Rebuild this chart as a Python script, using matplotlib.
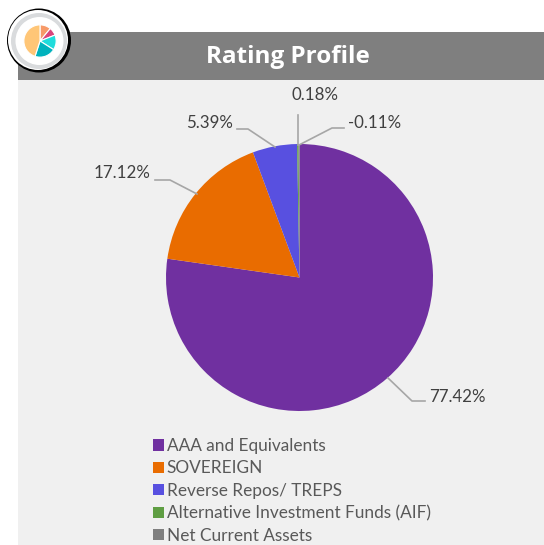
import matplotlib
matplotlib.use("Agg")
import matplotlib.pyplot as plt
from matplotlib.patches import Circle, Rectangle

plt.rcParams['font.family'] = ['Lato', 'DejaVu Sans']

W, H = 544, 545

categories = ["AAA and Equivalents", "SOVEREIGN", "Reverse Repos/ TREPS",
              "Alternative Investment Funds (AIF)", "Net Current Assets"]
values = [77.42, 17.12, 5.39, 0.18, 0.11]
value_labels = ["77.42%", "17.12%", "5.39%", "0.18%", "-0.11%"]
colors = ["#7030a0", "#e96c00", "#5850e0", "#5f9e43", "#7f7f7f"]

icon_values = [11, 8, 15, 21, 45]
icon_colors = ["#f79a68", "#d9457c", "#1fdcdc", "#00b2bd", "#ffc677"]

# leader lines and label spots, in picture pixels
leaders = [
    [(388, 378), (412, 401), (425, 401)],
    [(197, 194), (170, 180), (155, 180)],
    [(275, 147), (248, 129), (237, 129)],
    [(298, 145), (298, 115)],
    [(299, 145), (332, 128), (344, 128)],
]
label_spots = [(429, 396.5, 'left'), (150, 173.5, 'right'), (232.5, 122.5, 'right'),
               (315, 95.5, 'center'), (348, 122.5, 'left')]


def px_axes(fig, cx, cy, r):
    # square axes centred on a pixel position
    return fig.add_axes([(cx - r) / W, 1 - (cy + r) / H, 2 * r / W, 2 * r / H])


fig = plt.figure(figsize=(W / 100, H / 100), dpi=100, facecolor='white')

# background layer in pixel coordinates
bg = fig.add_axes([0, 0, 1, 1])
bg.set_xlim(0, W)
bg.set_ylim(H, 0)
bg.axis('off')
bg.add_patch(Rectangle((18, 80), W - 18, H - 80, color='#f0f0f0', lw=0))
bg.add_patch(Rectangle((18, 32), W - 18, 48, color='#7f7f7f', lw=0))
bg.text(287.5, 57, "Rating Profile", color='white', fontsize=17.5, fontweight='bold',
        family='Open Sans', ha='center', va='center')

# main pie
ax = px_axes(fig, 299.5, 277.5, 133.5)
wedges, _ = ax.pie(values, colors=colors, startangle=90, counterclock=False, radius=1,
                   wedgeprops={'linewidth': 0})
ax.set_xlim(-1, 1)
ax.set_ylim(-1, 1)

# leaders and labels above the pie
top = fig.add_axes([0, 0, 1, 1])
top.set_xlim(0, W)
top.set_ylim(H, 0)
top.axis('off')
top.patch.set_alpha(0)
for pts in leaders:
    top.plot([p[0] for p in pts], [p[1] for p in pts], color='#a6a6a6', lw=1.2)
for lab, (x, y, ha) in zip(value_labels, label_spots):
    top.text(x, y, lab, color='#404040', fontsize=12.2, ha=ha, va='center')

# logo badge
top.add_patch(Circle((39, 40.5), 32, fc='black', ec='none'))
top.add_patch(Circle((38, 40), 30, fc='white', ec='none'))
top.add_patch(Circle((39, 41), 28, fc='#d9dbdd', ec='none'))
top.add_patch(Circle((39.5, 41), 24, fc='white', ec='none'))
icon = px_axes(fig, 40, 41, 17)
icon.pie(icon_values, colors=icon_colors, startangle=90, counterclock=False, radius=0.95,
         wedgeprops={'linewidth': 0.8, 'edgecolor': 'white'})
icon.set_xlim(-1, 1)
icon.set_ylim(-1, 1)

# legend
leg = top.legend(wedges, categories, loc='upper left',
                 bbox_to_anchor=(153 / W, 1 - 438 / H), bbox_transform=fig.transFigure,
                 frameon=False, fontsize=12.4, labelcolor='#595959', handlelength=0.62,
                 handleheight=0.62, handletextpad=0.18, labelspacing=0.37,
                 borderpad=0, borderaxespad=0)

fig.savefig("out.png", dpi=100)
